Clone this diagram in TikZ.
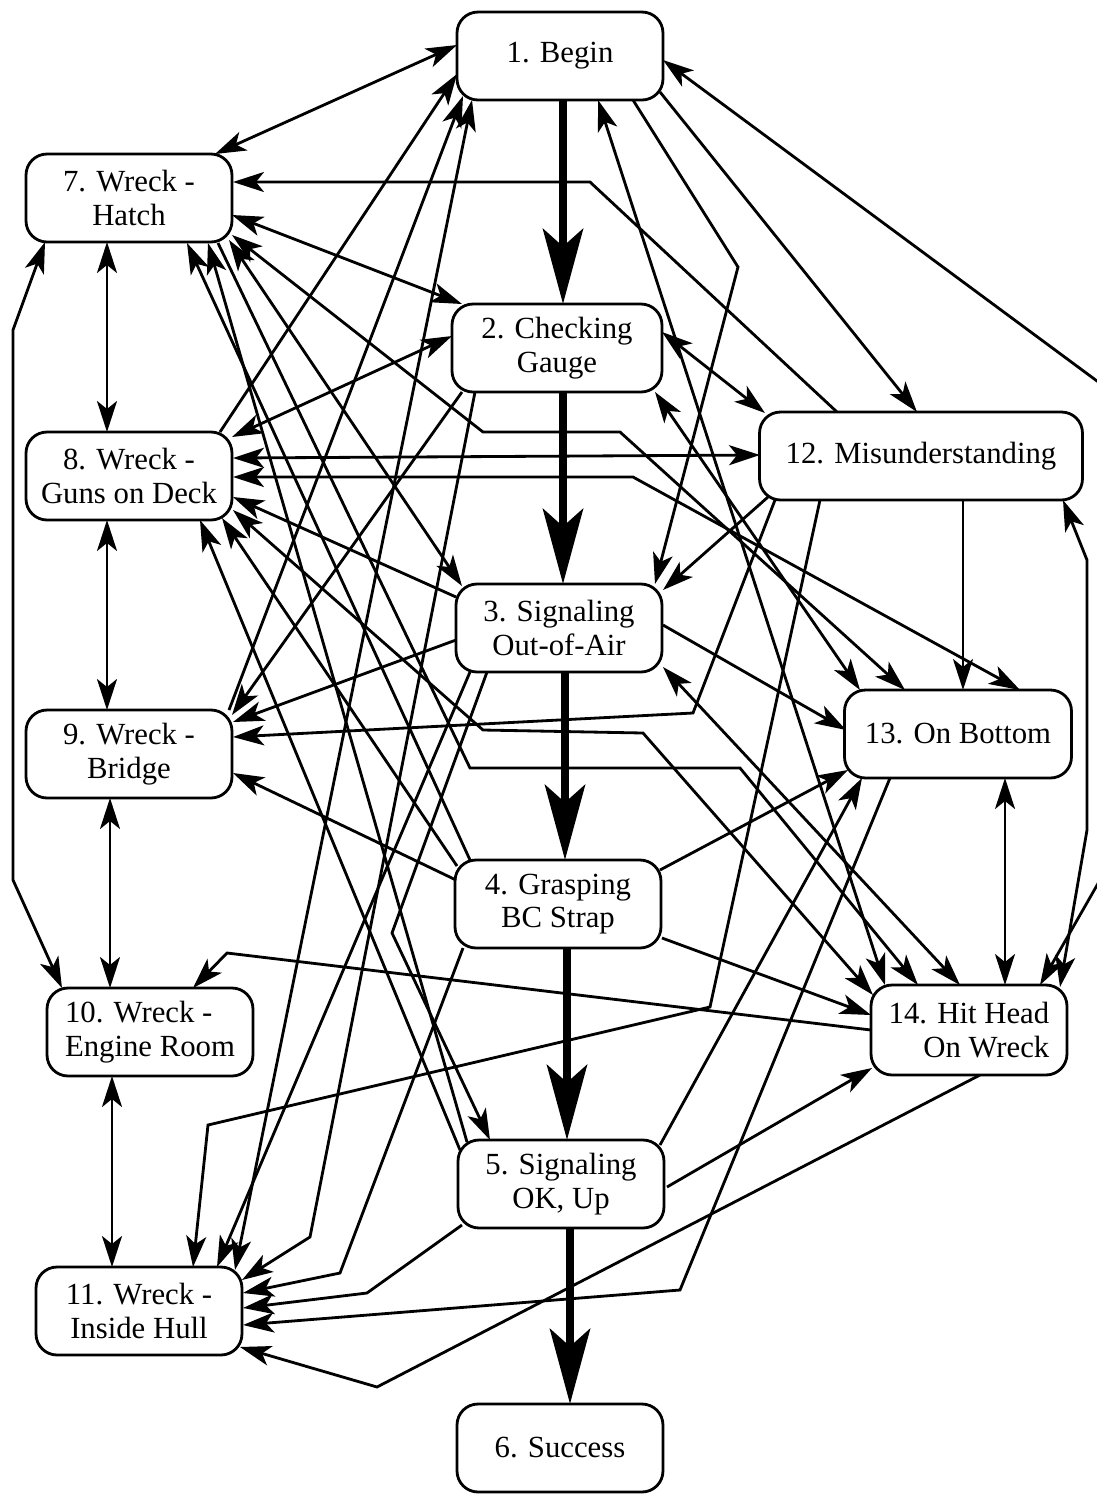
\documentclass[tikz,border=0pt]{standalone}
\usepackage{fontspec}
\setmainfont{Liberation Serif}
\usetikzlibrary{arrows.meta,calc}
\begin{document}
\begin{tikzpicture}[x=0.02cm,y=-0.02cm,
  box/.style={draw,line width=1.6pt,rounded corners=0.42cm,minimum width=4.12cm,minimum height=1.76cm,align=center,font=\fontsize{17.5}{19}\selectfont,inner sep=0pt},
  tip/.tip={Stealth[length=0.62cm,width=0.4cm,inset=0.16cm]},
  e/.style={line width=1.6pt,-tip},
  ee/.style={line width=1.6pt,tip-tip},
  mainarrow/.style={line width=5pt,-{Stealth[length=1.5cm,width=0.8cm,inset=0.35cm]}},
]
\useasboundingbox (0,0) rectangle (1097,1495);

\node[box] (n1) at (560,56) {1. Begin};
\node[box,minimum width=4.2cm] (n2) at (557,348) {2. Checking\\Gauge};
\node[box] (n3) at (559,628) {3. Signaling\\Out-of-Air};
\node[box] (n4) at (558,904) {4. Grasping\\BC Strap};
\node[box] (n5) at (561,1184) {5. Signaling\\OK, Up};
\node[box] (n6) at (560,1448) {6. Success};
\node[box] (n7) at (129,198) {7. Wreck -\\Hatch};
\node[box] (n8) at (129,476) {8. Wreck -\\Guns on Deck};
\node[box] (n9) at (129,754) {9. Wreck -\\Bridge};
\node[box,align=left] (n10) at (150,1032) {10. Wreck -\\Engine Room};
\node[box] (n11) at (139,1311) {11. Wreck -\\Inside Hull};
\node[box,minimum width=6.46cm] (n12) at (921,456) {12. Misunderstanding};
\node[box,minimum width=4.54cm] (n13) at (958,734) {13. On Bottom};
\node[box,minimum width=3.92cm,minimum height=1.8cm,align=right] (n14) at (969,1030) {14. Hit Head\\On Wreck};

% main chain
\draw[mainarrow] ($(n1)+(3,44)$) -- ($(n2)+(6,-44)$);
\draw[mainarrow] ($(n2)+(6,44)$) -- ($(n3)+(4,-44)$);
\draw[mainarrow] ($(n3)+(6,44)$) -- ($(n4)+(7,-44)$);
\draw[mainarrow] ($(n4)+(9,44)$) -- ($(n5)+(6,-44)$);
\draw[mainarrow] ($(n5)+(9,44)$) -- ($(n6)+(10,-44)$);

% left column
\draw[ee] ($(n7)+(-22,44)$) -- ($(n8)+(-22,-44)$);
\draw[ee] ($(n8)+(-22,44)$) -- ($(n9)+(-22,-44)$);
\draw[ee] ($(n9)+(-19,44)$) -- ($(n10)+(-40,-44)$);
\draw[ee] ($(n10)+(-38,44)$) -- ($(n11)+(-27,-44)$);
\draw[ee] ($(n7)+(-84,44)$) -- (13,330) -- (13,880) -- ($(n10)+(-88,-44)$);

% right side
\draw[ee] ($(n12)+(142,44)$) -- (1087,560) -- (1087,830) -- ($(n14)+(91,-43)$);
\draw[ee] ($(n1)+(103,4)$) -- (1120,398) -- (1120,845) -- ($(n14)+(71,-45)$);
\draw[ee] ($(n13)+(47,44)$) -- ($(n14)+(36,-45)$);
\draw[e] ($(n12)+(42,44)$) -- ($(n13)+(5,-44)$);

% begin
\draw[ee] ($(n1)+(-103,-11)$) -- ($(n7)+(86,-44)$);
\draw[e] ($(n8)+(91,-44)$) -- ($(n1)+(-103,18)$);
\draw[e] ($(n9)+(100,-44)$) -- ($(n1)+(-97,40)$);
\draw[ee] ($(n11)+(96,-41)$) -- ($(n1)+(-88,44)$);
\draw[e] ($(n1)+(100,36)$) -- ($(n12)+(-4,-44)$);
\draw[e] ($(n1)+(73,44)$) -- (738,267) -- ($(n3)+(96,-44)$);
\draw[ee] ($(n1)+(38,44)$) -- ($(n14)+(-84,-45)$);

% checking gauge
\draw[ee] ($(n7)+(103,17)$) -- ($(n2)+(-95,-44)$);
\draw[ee] ($(n8)+(103,-39)$) -- ($(n2)+(-105,-12)$);
\draw[ee] ($(n2)+(105,-16)$) -- ($(n12)+(-156,-43)$);
\draw[e] ($(n2)+(-95,44)$) -- ($(n9)+(103,-39)$);
\draw[e] ($(n2)+(-82,44)$) -- (310,1237) -- ($(n11)+(103,-31)$);
\draw[ee] ($(n2)+(98,44)$) -- ($(n13)+(-98,-44)$);

% signaling out-of-air
\draw[ee] ($(n7)+(100,42)$) -- ($(n3)+(-97,-42)$);
\draw[e] ($(n12)+(-153,41)$) -- ($(n3)+(104,-38)$);
\draw[e] ($(n3)+(-103,-31)$) -- ($(n8)+(104,21)$);
\draw[e] ($(n3)+(-103,12)$) -- ($(n9)+(104,-32)$);
\draw[ee] ($(n3)+(104,39)$) -- ($(n14)+(-9,-45)$);
\draw[e] ($(n3)+(104,-3)$) -- ($(n13)+(-112,-4)$);
\draw[e] ($(n3)+(-89,44)$) -- ($(n11)+(78,-44)$);
\draw[e] ($(n3)+(-72,44)$) -- (392,933) -- ($(n5)+(-71,-44)$);

% grasping
\draw[e] ($(n4)+(-88,-44)$) -- ($(n7)+(58,45)$);
\draw[e] ($(n4)+(-101,-38)$) -- ($(n8)+(93,42)$);
\draw[e] ($(n4)+(-102,-24)$) -- ($(n9)+(104,19)$);
\draw[e] ($(n4)+(102,-34)$) -- ($(n13)+(-110,36)$);
\draw[e] ($(n4)+(104,34)$) -- ($(n14)+(-98,-15)$);
\draw[e] ($(n4)+(-95,44)$) -- (340,1273) -- ($(n11)+(104,-18)$);

% signaling ok
\draw[e] ($(n5)+(-94,-42)$) -- ($(n7)+(79,45)$);
\draw[e] ($(n5)+(-101,-34)$) -- ($(n8)+(71,44)$);
\draw[e] ($(n5)+(-99,41)$) -- (367,1293) -- ($(n11)+(104,-3)$);
\draw[e] ($(n5)+(99,-39)$) -- ($(n13)+(-96,44)$);
\draw[e] ($(n5)+(106,3)$) -- ($(n14)+(-97,38)$);

% routed connectors
\draw[ee] ($(n7)+(103,37)$) -- (483,432) -- (620,432) -- ($(n13)+(-53,-44)$);
\draw[ee] ($(n8)+(104,-18)$) -- ($(n12)+(-161,-1)$);
\draw[ee] ($(n8)+(104,1)$) -- (633,477) -- ($(n13)+(62,-44)$);
\draw[ee] ($(n8)+(104,34)$) -- (483,730) -- (643,733) -- ($(n14)+(-96,-35)$);
\draw[e] ($(n7)+(89,45)$) -- (470,768) -- (740,768) -- ($(n14)+(-51,-45)$);
\draw[e] ($(n12)+(-84,-44)$) -- (590,182) -- ($(n7)+(104,-16)$);
\draw[e] ($(n12)+(-146,44)$) -- (693,713) -- ($(n9)+(104,-17)$);
\draw[e] ($(n12)+(-101,44)$) -- (710,1007) -- (208,1125) -- ($(n11)+(54,-44)$);
\draw[e] ($(n13)+(-68,44)$) -- (680,1290) -- ($(n11)+(104,14)$);
\draw[e] ($(n14)+(11,45)$) -- (377,1387) -- ($(n11)+(101,36)$);
\draw[e] ($(n14)+(-98,0)$) -- (227,953) -- ($(n10)+(43,-44)$);
\end{tikzpicture}
\end{document}
